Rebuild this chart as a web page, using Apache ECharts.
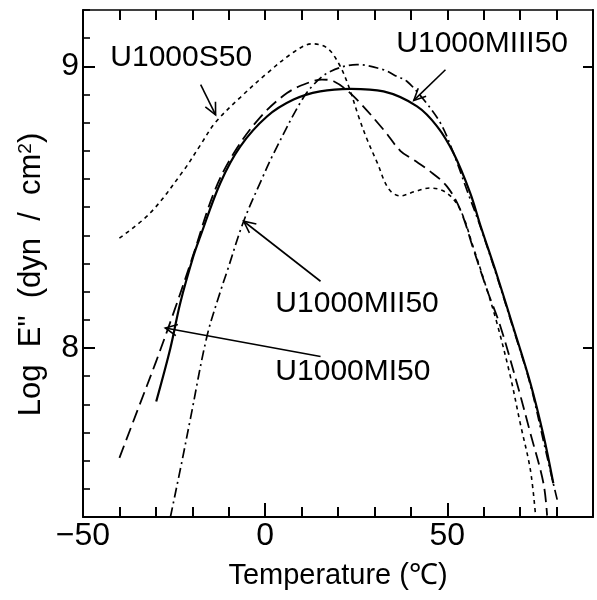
<!DOCTYPE html>
<html>
<head>
<meta charset="utf-8">
<script src="https://cdn.jsdelivr.net/npm/echarts@6/dist/echarts.min.js"></script>
<style>html,body{margin:0;padding:0;background:#fff}#chart{width:597px;height:600px}</style>
</head>
<body>
<div id="chart"></div>
<script>
// temperature (C), log E''
var s50 = [[-40,8.39],[-31.5,8.48],[-22.4,8.63],[-17.8,8.72],[-13.7,8.80],[-6.8,8.89],[0.5,8.975],[7.8,9.05],[12.9,9.08],
  [17,9.065],[20.2,9.01],[22.9,8.93],[25.7,8.82],[28,8.74],[30.7,8.66],[33.9,8.565],[37.1,8.54],[41,8.555],[45.3,8.568],
  [49.9,8.55],[53.6,8.49],[57.2,8.355],[60.9,8.207],[63.6,8.09],[67.3,7.90],[70,7.734],[72.8,7.568],[74.2,7.41]];
var mi50 = [[-40,7.61],[-35,7.78],[-30,7.95],[-25,8.13],[-20,8.32],[-14.1,8.55],[-8.7,8.69],[-1.3,8.82],[6,8.905],
  [11.5,8.94],[15.6,8.953],[18.8,8.947],[24.3,8.893],[32.5,8.775],[37.1,8.70],[40.5,8.67],[45,8.63],[49.9,8.574],
  [53.6,8.49],[57.2,8.35],[60.9,8.207],[64.5,8.08],[69.1,7.876],[72.8,7.698],[76.4,7.52],[77.4,7.405]];
var mii50 = [[-26,7.40],[-22.8,7.60],[-20.5,7.75],[-16,8.04],[-12.3,8.20],[-10.5,8.27],[-5.9,8.45],[-0.9,8.60],[2.3,8.69],
  [9.6,8.87],[13.3,8.935],[17.9,8.982],[25.2,9.006],[32.5,8.988],[36.2,8.964],[38.9,8.947],[43.5,8.882],[48.1,8.799],
  [51.7,8.692],[55.4,8.56],[59.1,8.43],[63.6,8.255],[68.2,8.065],[72.8,7.87],[76.4,7.67],[78.9,7.53],[80.2,7.46]];
var miii50 = [[-29.9,7.81],[-26,8.0],[-23.3,8.16],[-19.6,8.33],[-17.8,8.396],[-12.3,8.586],[-6.8,8.716],[0.5,8.822],
  [7.8,8.882],[15.1,8.911],[23.4,8.92],[32.5,8.911],[41.7,8.858],[47.2,8.787],[51.7,8.692],[56.3,8.55],[59.1,8.435],
  [63.6,8.26],[68.2,8.07],[72.8,7.876],[76.4,7.69],[79.1,7.52]];

var labelNames = ['U1000S50', 'U1000MIII50', 'U1000MII50', 'U1000MI50'];
var labelPos = [[-42.5,9.031],[36.0,9.081],[2.8,8.157],[2.8,7.914]];
// arrow from (x1,y1) to tip (x2,y2)
var arrowLines = [[-17.7,8.935,-13.6,8.828],[49.5,8.988,40.8,8.879],[15.2,8.237,-5.9,8.450],[15.2,7.970,-27.4,8.071]];

var FONT = '"Liberation Sans", Arial, sans-serif';
var myChart = echarts.init(document.getElementById('chart'));

function lineSeries(name, data, dash, width) {
  return {
    name: name, type: 'line', data: data, showSymbol: false, smooth: 0.35,
    xAxisIndex: 0, yAxisIndex: 0, silent: true,
    lineStyle: { color: '#000', width: width, type: dash }
  };
}

var option = {
  animation: false,
  backgroundColor: '#fff',
  grid: { left: 83, right: 4, top: 10, bottom: 83, containLabel: false },
  xAxis: [
    {
      type: 'value', position: 'bottom', min: -50, max: 90, interval: 10,
      axisLine: { show: true, onZero: false, lineStyle: { color: '#000', width: 2 } },
      axisTick: { show: true, inside: true, length: 10, lineStyle: { color: '#000', width: 2 } },
      splitLine: { show: false },
      axisLabel: {
        color: '#000', fontSize: 32, fontFamily: FONT, margin: 3,
        formatter: function (v) { return v % 50 === 0 && v < 90 ? String(v).replace('-', '\u2212') : ''; }
      },
      name: 'Temperature (\u2103)', nameLocation: 'middle', nameGap: 44,
      nameTextStyle: { color: '#000', fontSize: 29, fontFamily: FONT }
    },
    {
      type: 'value', position: 'bottom', min: -50, max: 90, interval: 50,
      axisLine: { show: false, onZero: false }, axisLabel: { show: false }, splitLine: { show: false },
      axisTick: { show: true, inside: true, length: 14, lineStyle: { color: '#000', width: 2 } }
    },
    {
      type: 'value', position: 'top', min: -50, max: 90, interval: 10,
      axisLine: { show: true, onZero: false, lineStyle: { color: '#000', width: 1.6 } },
      axisLabel: { show: false }, splitLine: { show: false },
      axisTick: { show: true, inside: true, length: 10, lineStyle: { color: '#000', width: 2 } }
    }
  ],
  yAxis: [
    {
      type: 'value', position: 'left', min: 7.4, max: 9.2, interval: 0.1,
      axisLine: { show: true, onZero: false, lineStyle: { color: '#000', width: 2 } },
      axisTick: { show: true, inside: true, length: 7, lineStyle: { color: '#000', width: 1.6 } },
      splitLine: { show: false },
      axisLabel: {
        color: '#000', fontSize: 32, fontFamily: FONT, margin: 4,
        formatter: function (v) { return Math.abs(v - Math.round(v)) < 1e-6 ? String(Math.round(v)) : ''; }
      },
      name: 'Log  E"  (dyn  /  cm{sup|2})', nameLocation: 'middle', nameGap: 36, nameRotate: 90,
      nameTextStyle: {
        color: '#000', fontSize: 31, fontFamily: FONT, padding: [0, 22, 0, 0],
        rich: { sup: { fontSize: 19, fontFamily: FONT, color: '#000', verticalAlign: 'top', padding: [0, 0, 12, 0] } }
      }
    },
    {
      type: 'value', position: 'left', min: 7.4, max: 9.2,
      axisLine: { show: false, onZero: false }, axisLabel: { show: false }, splitLine: { show: false },
      axisTick: { show: true, inside: true, length: 12, customValues: [8, 9], lineStyle: { color: '#000', width: 2 } }
    },
    {
      type: 'value', position: 'right', min: 7.4, max: 9.2,
      axisLine: { show: true, onZero: false, lineStyle: { color: '#000', width: 2 } },
      axisLabel: { show: false }, splitLine: { show: false },
      axisTick: { show: true, inside: true, length: 10, customValues: [8, 9], lineStyle: { color: '#000', width: 2 } }
    }
  ],
  series: [
    lineSeries('U1000S50', s50, [4, 4], 1.6),
    lineSeries('U1000MI50', mi50, [13, 6], 1.8),
    lineSeries('U1000MII50', mii50, [10, 4, 2, 4], 1.7),
    lineSeries('U1000MIII50', miii50, 'solid', 2.2),
    {
      type: 'custom', name: 'labels', xAxisIndex: 0, yAxisIndex: 0, silent: true,
      data: labelPos,
      renderItem: function (params, api) {
        var p = api.coord([api.value(0), api.value(1)]);
        return {
          type: 'text', x: p[0], y: p[1],
          style: { text: labelNames[params.dataIndex], fontSize: 30, fontFamily: FONT, fill: '#000', align: 'left', verticalAlign: 'middle' }
        };
      }
    },
    {
      type: 'custom', name: 'arrows', xAxisIndex: 0, yAxisIndex: 0, silent: true,
      encode: { x: [0, 2], y: [1, 3] },
      data: arrowLines,
      renderItem: function (params, api) {
        var p1 = api.coord([api.value(0), api.value(1)]);
        var p2 = api.coord([api.value(2), api.value(3)]);
        var ang = Math.atan2(p2[1] - p1[1], p2[0] - p1[0]);
        var h = 13, w = 0.45;
        var a1 = [p2[0] - h * Math.cos(ang - w), p2[1] - h * Math.sin(ang - w)];
        var a2 = [p2[0] - h * Math.cos(ang + w), p2[1] - h * Math.sin(ang + w)];
        return {
          type: 'group',
          children: [
            { type: 'line', shape: { x1: p1[0], y1: p1[1], x2: p2[0], y2: p2[1] }, style: { stroke: '#000', lineWidth: 1.6 } },
            { type: 'polyline', shape: { points: [a1, p2, a2] }, style: { stroke: '#000', lineWidth: 1.6, fill: null } }
          ]
        };
      }
    }
  ]
};
myChart.setOption(option);
</script>
</body>
</html>
